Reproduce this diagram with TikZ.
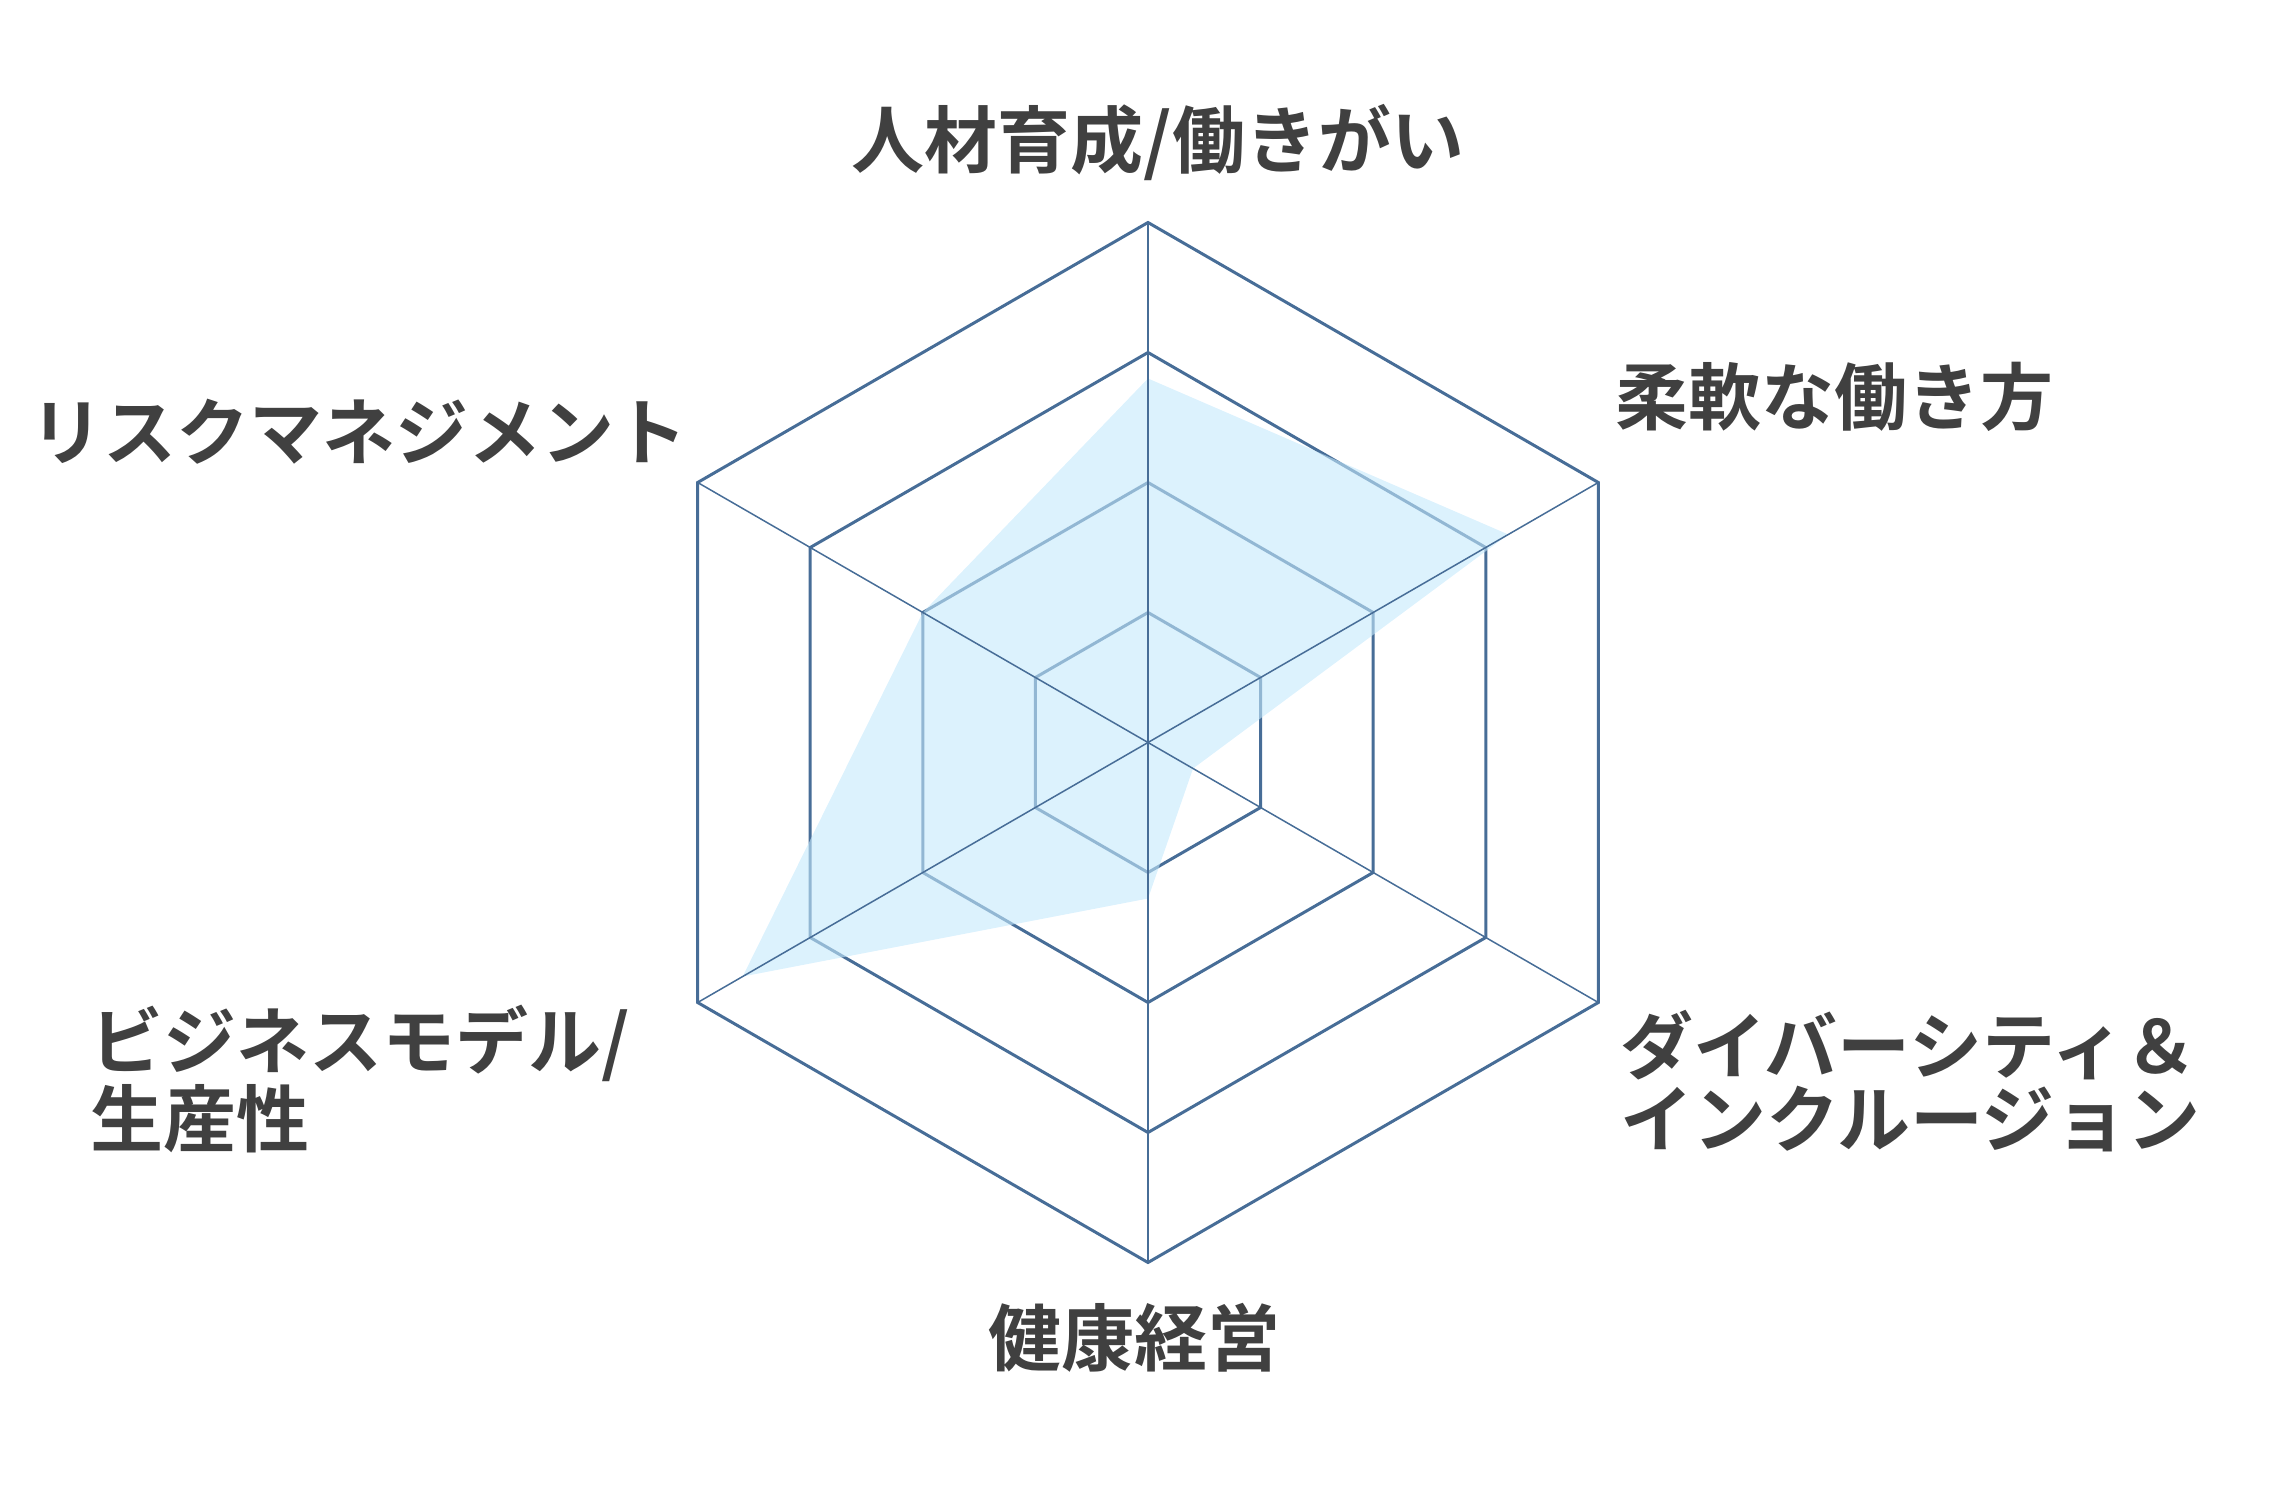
\documentclass[tikz,border=0pt]{standalone}
\usepackage{fontspec}
\newfontfamily\jpfont{Noto Sans CJK JP Bold}
\definecolor{gridblue}{HTML}{476D97}
\definecolor{areablue}{HTML}{C4E9FC}
\definecolor{labelgray}{HTML}{404040}
\tikzset{
  ring/.style={gridblue, line width=1.5pt, line join=miter},
  spoke/.style={gridblue, line width=0.75pt},
  axislabel/.style={inner sep=0pt, text=labelgray, font=\jpfont\fontsize{36.5}{36.5}\selectfont},
}
\begin{document}
\begin{tikzpicture}[x=0.5pt,y=0.5pt]
\useasboundingbox (-1148,-767.5) rectangle (1137,742.5);

\coordinate (o) at (0,0);
\coordinate (vtop) at (90:520);
\coordinate (vur) at (30:520);
\coordinate (vlr) at (-30:520);
\coordinate (vbot) at (-90:520);
\coordinate (vll) at (210:520);
\coordinate (vul) at (150:520);

    % grid rings
    \draw[ring] (90:130)--(30:130)--(-30:130)--(-90:130)--(210:130)--(150:130)--cycle;
    \draw[ring] (90:260)--(30:260)--(-30:260)--(-90:260)--(210:260)--(150:260)--cycle;
    \draw[ring] (90:390)--(30:390)--(-30:390)--(-90:390)--(210:390)--(150:390)--cycle;
    \draw[ring] (vtop)--(vur)--(vlr)--(vbot)--(vll)--(vul)--cycle;

    % data area
    \fill[areablue, opacity=0.6] (90:364)--(30:416)--(-30:52)--(-90:156)--(210:468)--(150:260)--cycle;

    % spokes
    \draw[spoke] (o)--(vtop);
    \draw[spoke] (o)--(vur);
    \draw[spoke] (o)--(vlr);
    \draw[spoke] (o)--(vbot);
    \draw[spoke] (o)--(vll);
    \draw[spoke] (o)--(vul);

    \node[axislabel, anchor=base] (talent) at (10,574.5) {人材育成/働きがい};
    \node[axislabel, anchor=base west] (flex) at (467,317.5) {柔軟な働き方};
    \node[axislabel, anchor=base west, align=left] (diversity) at (472,-403.5) {ダイバーシティ＆\\インクルージョン};
    \node[axislabel, anchor=base] (health) at (-14,-622.5) {健康経営};
    \node[axislabel, anchor=base west, align=left] (business) at (-1058,-403.5) {ビジネスモデル/\\生産性};
    \node[axislabel, anchor=base east] (risk) at (-460,282.5) {リスクマネジメント};
\end{tikzpicture}
\end{document}
